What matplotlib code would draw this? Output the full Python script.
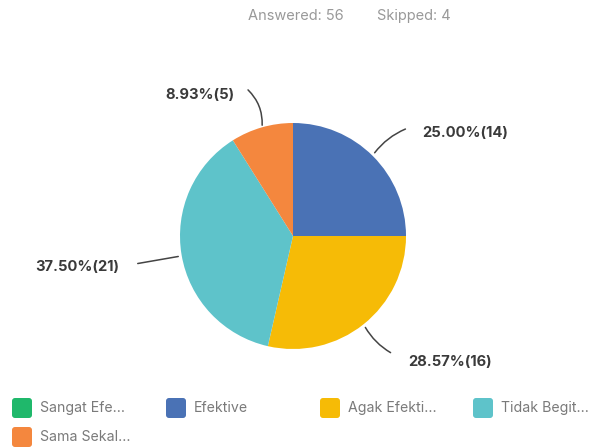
import matplotlib
matplotlib.use("Agg")
import matplotlib.pyplot as plt
from matplotlib.patches import FancyBboxPatch

categories = ["Sangat Efe...", "Efektive", "Agak Efekti...", "Tidak Begit...", "Sama Sekal..."]
counts = [0, 14, 16, 21, 5]
colors = ["#1fb86b", "#4a72b5", "#f6bb06", "#5ec3ca", "#f4873e"]
labels = ["", "25.00%(14)", "28.57%(16)", "37.50%(21)", "8.93%(5)"]

plt.rcParams['font.family'] = ['Inter', 'DejaVu Sans']
W, H = 597, 448
fig = plt.figure(figsize=(W/100, H/100), dpi=100)
ax = fig.add_axes([0, 0, 1, 1])

cx, cy, r = 293, H - 236, 113
nz = [(c, col) for c, col in zip(counts, colors) if c > 0]
ax.pie([c for c, _ in nz], colors=[col for _, col in nz], startangle=90,
       counterclock=False, center=(cx, cy), radius=r, frame=True,
       wedgeprops=dict(linewidth=0))
ax.set_xlim(0, W)
ax.set_ylim(0, H)
ax.set_aspect('equal')
ax.axis('off')

ann = {
    1: dict(txt=(422, 133), start=(408, 128), end=(373, 155), rad=0.15),
    2: dict(txt=(408, 362), start=(393, 354), end=(364, 325), rad=-0.15),
    3: dict(txt=(35, 267), start=(135, 264), end=(181, 256), rad=0.0),
    4: dict(txt=(165, 95), start=(246, 88), end=(262, 128), rad=-0.25),
}
for i, a in ann.items():
    ax.text(a['txt'][0], H - a['txt'][1], labels[i], ha='left', va='center',
            fontsize=10.6, fontweight='bold', color='#3a3a3a')
    ax.annotate("", xy=(a['end'][0], H - a['end'][1]),
                xytext=(a['start'][0], H - a['start'][1]),
                arrowprops=dict(arrowstyle='-', color='#444444', lw=1.1,
                                connectionstyle=f"arc3,rad={a['rad']}"))

ax.text(248, H - 16, "Answered: 56", ha='left', va='center',
        fontsize=10.5, color='#999999')
ax.text(377, H - 16, "Skipped: 4", ha='left', va='center',
        fontsize=10.5, color='#999999')

leg_pos = [(12, 398), (166, 398), (320, 398), (473, 398), (12, 427)]
for (x, y), cat, col in zip(leg_pos, categories, colors):
    ax.add_patch(FancyBboxPatch((x, H - y - 20), 20, 20,
                                boxstyle="round,pad=0,rounding_size=3",
                                fc=col, ec='none'))
    ax.text(x + 28, H - y - 10, cat, ha='left', va='center', fontsize=10.2,
            color='#7a7a7a')

fig.savefig("out.png", dpi=100)
